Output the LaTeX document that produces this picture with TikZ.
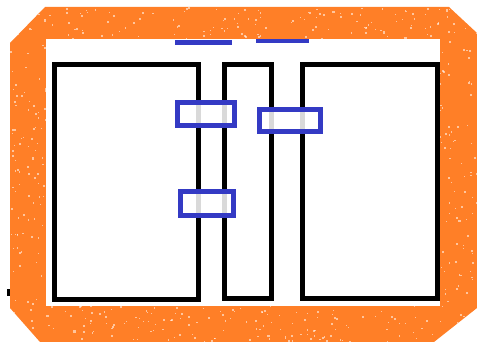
\documentclass[tikz,border=0pt]{standalone}
\definecolor{orng}{RGB}{255,127,39}
\definecolor{blu}{RGB}{52,58,196}
\begin{document}
\begin{tikzpicture}[x=1pt,y=-1pt,
  blk/.style={draw=black,line width=5pt,fill=white},
  bluebox/.style={draw=blu,line width=4.5pt,fill=white,fill opacity=0.85,draw opacity=1},
  blueline/.style={draw=blu,line cap=butt}]
\useasboundingbox (0,0) rectangle (477,342);
% orange frame
\fill[orng] (45,7) -- (449,7) -- (477,33) -- (477,308) -- (434,342) -- (40,342) -- (10,308) -- (10,43) -- cycle;
\begin{scope}
\clip (45,7) -- (449,7) -- (477,33) -- (477,308) -- (434,342) -- (40,342) -- (10,308) -- (10,43) -- cycle;
\pgfmathsetseed{7}
\foreach \i in {1,...,1400}{
  \pgfmathsetmacro\px{10+467*rnd}
  \pgfmathsetmacro\py{7+335*rnd}
  \pgfmathsetmacro\sz{0.8+1.4*rnd}
  \fill[white,opacity=0.55] (\px,\py) rectangle ++(\sz,\sz);
}
\end{scope}
\fill[white] (46,39) rectangle (440,306);
% small black mark
\fill[black] (7,289) rectangle (10,296);
% blue lines at top
\draw[blueline,line width=5pt] (175,43) -- (232,43);
\draw[blueline,line width=4pt] (256,41.5) -- (309,41.5);
% black rectangles
\draw[blk] (54.5,64.5) rectangle (198.5,299);
\draw[blk] (224.5,64.5) rectangle (271.5,298.5);
\draw[blk] (302.5,64.5) rectangle (437.5,298.5);
% blue boxes
\draw[bluebox] (177.5,102.5) rectangle (234.5,125.5);
\draw[bluebox] (259.5,109.5) rectangle (320.5,131.5);
\draw[bluebox] (180.5,191.5) rectangle (233.5,215.5);
\end{tikzpicture}
\end{document}
